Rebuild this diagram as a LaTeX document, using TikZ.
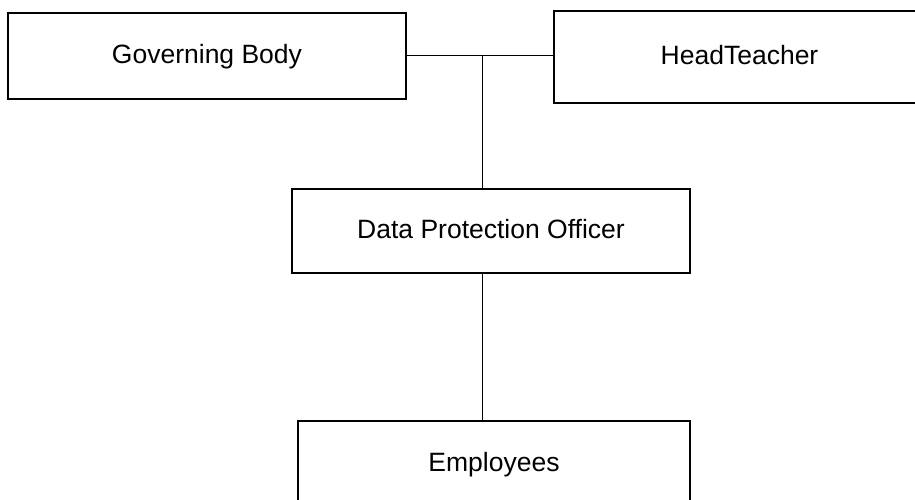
\documentclass[tikz,border=0pt]{standalone}
\usepackage{fontspec}
\setmainfont{Liberation Sans}
\tikzset{
  role/.style={draw, line width=1pt, fill=white, align=center,
    text height=0.72em, text depth=0pt,
    font=\fontsize{13.25}{16}\selectfont},
  link/.style={line width=0.5pt}
}
\begin{document}
\begin{tikzpicture}[x=0.5pt, y=-0.5pt]
      \useasboundingbox (0,0) rectangle (915,499);
      \clip (0,0) rectangle (915,499);
      \draw
        (207,56) node[role, minimum width=199pt, minimum height=43pt] (gb){Governing Body}
        (739.5,57) node[role, minimum width=185.5pt, minimum height=46pt] (ht){HeadTeacher}
        (491,231) node[role, minimum width=199pt, minimum height=42pt] (dpo){Data Protection Officer}
        (494,464) node[role, minimum width=196pt, minimum height=43pt] (emp){Employees};
      \coordinate (jn) at (482,55);
      \begin{scope}[link]
        \draw (gb.east |- jn) to (ht.west |- jn);
        \draw (jn) to (jn |- dpo.north);
        \draw (jn |- dpo.south) to (jn |- emp.north);
      \end{scope}
    \end{tikzpicture}
\end{document}
